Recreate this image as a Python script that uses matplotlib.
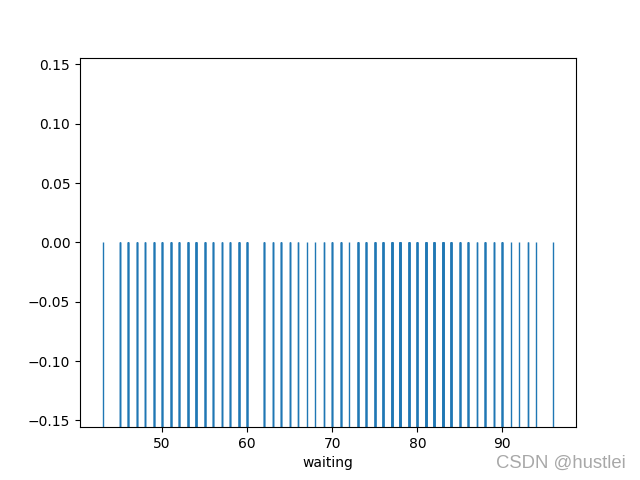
import matplotlib.pyplot as plt
import numpy as np

# Old Faithful waiting times (minutes)
waiting = [79, 54, 74, 62, 85, 55, 88, 85, 51, 85, 54, 84, 78, 47, 83, 52, 62, 84, 52, 79,
           51, 47, 78, 69, 74, 83, 55, 76, 78, 79, 73, 77, 66, 80, 74, 52, 48, 80, 59, 90,
           80, 58, 84, 58, 73, 83, 64, 53, 82, 59, 75, 90, 54, 80, 54, 83, 71, 64, 77, 81,
           59, 84, 48, 82, 60, 92, 78, 78, 65, 73, 82, 56, 79, 71, 62, 76, 60, 78, 76, 83,
           75, 82, 70, 65, 73, 88, 76, 80, 48, 86, 60, 90, 50, 78, 63, 72, 84, 75, 51, 82,
           62, 88, 49, 83, 81, 47, 84, 52, 86, 81, 75, 59, 89, 79, 59, 81, 50, 85, 59, 87,
           53, 69, 77, 56, 88, 81, 45, 82, 55, 90, 45, 83, 56, 89, 46, 82, 51, 86, 53, 79,
           81, 60, 82, 77, 76, 59, 80, 49, 96, 53, 77, 77, 65, 81, 71, 70, 81, 93, 53, 89,
           45, 86, 58, 78, 66, 76, 63, 88, 52, 93, 49, 57, 77, 68, 81, 81, 73, 50, 85, 74,
           55, 77, 83, 83, 51, 78, 84, 46, 83, 55, 81, 57, 76, 84, 77, 81, 87, 77, 51, 78,
           60, 82, 91, 53, 78, 46, 77, 84, 49, 83, 71, 80, 49, 75, 64, 76, 53, 94, 55, 76,
           50, 82, 54, 75, 78, 79, 78, 78, 70, 79, 70, 54, 86, 50, 90, 54, 54, 77, 79, 64,
           75, 47, 86, 63, 85, 82, 57, 82, 67, 74, 54, 83, 73, 73, 88, 80, 71, 83, 56, 79,
           78, 84, 58, 83, 43, 60, 75, 81, 46, 90, 46, 74]

fig, ax = plt.subplots(figsize=(6.4, 4.8), dpi=100)
ylo, yhi = -0.1557, 0.1557
ax.vlines(waiting, ylo, 0, colors='#1f77b4', linewidth=1)
ax.set_ylim(ylo, yhi)
ax.set_yticks(np.arange(-0.15, 0.151, 0.05))
ax.set_xlabel('waiting')
fig.text(0.978, 0.018, 'CSDN @hustlei', ha='right', va='bottom', fontsize=13.3,
         family='Liberation Sans', color='#a8a8a8')
fig.savefig('out.png')
